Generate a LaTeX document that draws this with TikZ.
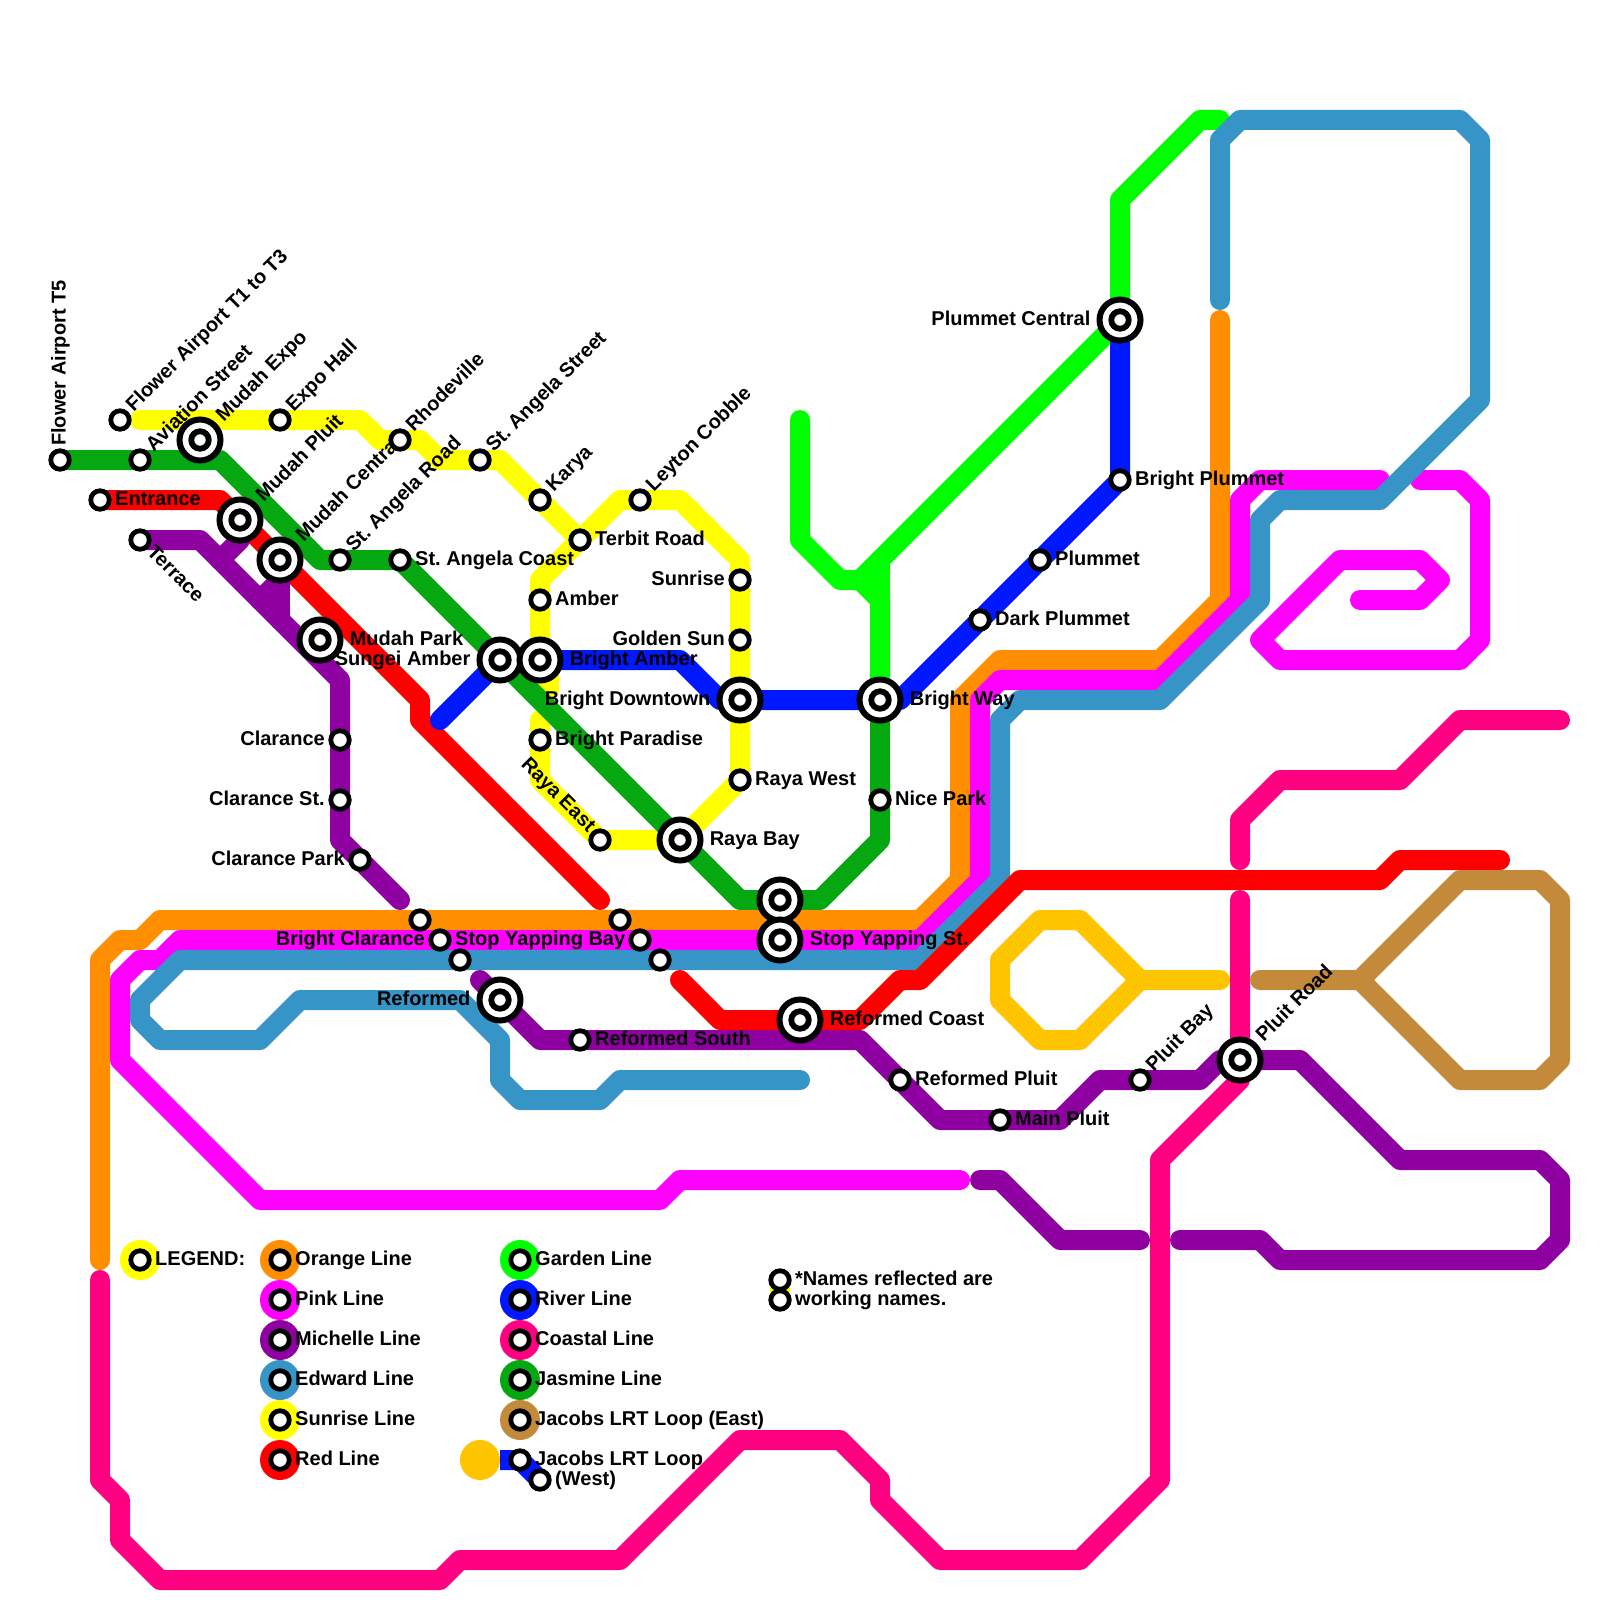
\documentclass[tikz,border=0pt]{standalone}
\usepackage{fontspec}
\setmainfont{Liberation Sans}
\definecolor{sunriseY}{HTML}{FFFF00}
\definecolor{gardenG}{HTML}{00FF00}
\definecolor{jasmineG}{HTML}{06A812}
\definecolor{redL}{HTML}{FF0000}
\definecolor{riverB}{HTML}{0018FF}
\definecolor{michelleP}{HTML}{8F00A0}
\definecolor{orangeL}{HTML}{FF8F00}
\definecolor{pinkL}{HTML}{FF00FF}
\definecolor{edwardB}{HTML}{3695C6}
\definecolor{coastalR}{HTML}{FF0080}
\definecolor{jacobsE}{HTML}{C48A3B}
\definecolor{jacobsW}{HTML}{FFC400}
\tikzset{
  trunk/.style={line width=20pt,line cap=round,line join=round},
  stn/.style={circle,draw=black,fill=white,line width=4.8pt,minimum size=18.5pt,inner sep=0pt},
  xfr/.style={circle,draw=black,fill=white,line width=6pt,minimum size=41pt,inner sep=0pt},
  hub/.style={circle,draw=black,fill=white,line width=5.8pt,minimum size=17.5pt,inner sep=0pt},
  lbl/.style={font=\fontsize{20}{22}\selectfont\bfseries\frenchspacing,inner sep=0pt,text=black},
  key/.style={circle,minimum size=40pt,inner sep=0pt}
}
\begin{document}
\begin{tikzpicture}[x=20pt,y=-20pt]
\useasboundingbox[fill=white] (0,0) rectangle (80,80);
% Sunrise Line
\draw[trunk,sunriseY] (7,21) -- (18,21) -- (19,22) -- (21,22) -- (22,23) -- (25,23) -- (29,27) -- (27,29) -- (27,33) -- (27.45,33.5) -- (27.45,34.5);
\draw[trunk,sunriseY] (29,27) -- (31,25) -- (34,25) -- (37,28) -- (37,39) -- (34,42) -- (30,42) -- (27,39) -- (27,36);
% Garden Line
\draw[trunk,gardenG] (40,21) -- (40,27) -- (42,29) -- (43,29) -- (44,30) -- (44,35);
\draw[trunk,gardenG] (43,29) -- (44,28) -- (56,16) -- (56,10) -- (60,6) -- (61,6);
\draw[trunk,gardenG] (44,28) -- (44,35);
% Jasmine Line
\draw[trunk,jasmineG] (3,23) -- (11,23) -- (16,28) -- (20,28) -- (37,45) -- (41,45) -- (44,42) -- (44,35);
% Red Line, west part
\draw[trunk,redL] (5,25) -- (11,25) -- (21,35) -- (21,36) -- (30,45);
% River Line
\draw[trunk,riverB] (22,36) -- (25,33);
\draw[trunk,riverB] (27,33) -- (34,33) -- (36,35) -- (45,35) -- (56,24) -- (56,16);
% Michelle Line
\draw[trunk,michelleP] (7,27) -- (10,27) -- (17,34) -- (17,42) -- (20,45);
\draw[trunk,michelleP] (12,26) -- (12,27) -- (11,28);
\draw[trunk,michelleP] (14,28) -- (14,31);
\draw[trunk,michelleP] (14,29) -- (13,30);
\draw[trunk,michelleP] (24,49) -- (27,52) -- (43,52) -- (47,56) -- (53,56) -- (55,54) -- (60,54) -- (61,53) -- (65,53) -- (70,58) -- (77,58) -- (78,59) -- (78,62) -- (77,63) -- (64,63) -- (63,62) -- (59,62);
\draw[trunk,michelleP] (49,59) -- (50,59) -- (53,62) -- (57,62);
% Orange Line
\draw[trunk,orangeL] (5,63) -- (5,48) -- (6,47) -- (7,47) -- (8,46) -- (46,46) -- (48,44) -- (48,35) -- (50,33) -- (58,33) -- (61,30) -- (61,16);
% Pink Line
\draw[trunk,pinkL] (48,59) -- (34,59) -- (33,60) -- (13,60) -- (6,53) -- (6,49) -- (7,48) -- (8,48) -- (9,47) -- (46,47) -- (49,44) -- (49,35) -- (50,34) -- (58,34) -- (62,30) -- (62,25) -- (63,24) -- (69,24);
\draw[trunk,pinkL] (71,24) -- (73,24) -- (74,25) -- (74,32) -- (73,33) -- (64,33) -- (63,32) -- (67,28) -- (71,28) -- (72,29) -- (71,30) -- (68,30);
% Edward Line
\draw[trunk,edwardB] (61,15) -- (61,7) -- (62,6) -- (73,6) -- (74,7) -- (74,20) -- (69,25) -- (64,25) -- (63,26) -- (63,30) -- (58,35) -- (51,35) -- (50,36) -- (50,44) -- (46,48) -- (9,48) -- (7,50) -- (7,51) -- (8,52) -- (13,52) -- (15,50) -- (23,50) -- (25,52) -- (25,54) -- (26,55) -- (30,55) -- (31,54) -- (40,54);
% Red Line, east part
\draw[trunk,redL] (34,49) -- (36,51) -- (43,51) -- (45,49) -- (46,49) -- (51,44) -- (69,44) -- (70,43) -- (75,43);
% Coastal Line
\draw[trunk,coastalR] (5,64) -- (5,74) -- (6,75) -- (6,77) -- (8,79) -- (22,79) -- (23,78) -- (31,78) -- (37,72) -- (42,72) -- (44,74) -- (44,75) -- (47,78) -- (54,78) -- (58,74) -- (58,58) -- (62,54) -- (62,45);
\draw[trunk,coastalR] (62,43) -- (62,41) -- (64,39) -- (70,39) -- (73,36) -- (78,36);
% Jacobs LRT loops
\draw[trunk,jacobsE] (63,49) -- (68,49) -- (73,44) -- (77,44) -- (78,45) -- (78,53) -- (77,54) -- (73,54) -- (68,49);
\draw[trunk,jacobsW] (61,49) -- (57,49) -- (54,46) -- (52,46) -- (50,48) -- (50,50) -- (52,52) -- (54,52) -- (57,49);
% Legend discs
\foreach \nm/\col/\gx/\gy in {kLegend/sunriseY/7/63,kOrange/orangeL/14/63,kPink/pinkL/14/65,kMichelle/michelleP/14/67,kEdward/edwardB/14/69,kSunrise/sunriseY/14/71,kRed/redL/14/73,kGarden/gardenG/26/63,kRiver/riverB/26/65,kCoastal/coastalR/26/67,kJasmine/jasmineG/26/69,kEast/jacobsE/26/71,kWest/jacobsW/24/73} {
  \node[key,fill=\col] (\nm) at (\gx,\gy) {};
}
\draw[trunk,riverB,line cap=butt] (kWest.east) -- (26,73) -- (27,74);
\draw[trunk,sunriseY,line cap=butt] (39,64) -- (39,65);
% Labels to the right of a small station
\foreach \nm/\gx/\gy/\txt in {entrance/5/25/Entrance,angelacoast/20/28/St. Angela Coast,terbit/29/27/Terbit Road,amber/27/30/Amber,paradise/27/37/Bright Paradise,rayawest/37/39/Raya West,nicepark/44/40/Nice Park,brightplummet/56/24/Bright Plummet,plummet/52/28/Plummet,darkplummet/49/31/Dark Plummet,refpluit/45/54/Reformed Pluit,mainpluit/50/56/Main Pluit,refsouth/29/52/Reformed South,stopbay/22/47/Stop Yapping Bay,tLegend/7/63/LEGEND:,tOrange/14/63/Orange Line,tPink/14/65/Pink Line,tMichelle/14/67/Michelle Line,tEdward/14/69/Edward Line,tSunrise/14/71/Sunrise Line,tRed/14/73/Red Line,tGarden/26/63/Garden Line,tRiver/26/65/River Line,tCoastal/26/67/Coastal Line,tJasmine/26/69/Jasmine Line,tEast/26/71/Jacobs LRT Loop (East),tWest/26/73/Jacobs LRT Loop,tWest2/27/74/(West),tNote/39/64/*Names reflected are,tNote2/39/65/working names.} {
  \node[lbl,anchor=base west] (l-\nm) at (\gx+.75,\gy+.27) {\txt};
}
% Labels to the left of a small station
\foreach \nm/\gx/\gy/\txt in {sunrise/37/29/Sunrise,goldensun/37/32/Golden Sun,clarance/17/37/Clarance,clarancest/17/40/Clarance St.,clarancepark/18/43/Clarance Park,brightclarance/22/47/Bright Clarance} {
  \node[lbl,anchor=base east] (l-\nm) at (\gx-.75,\gy+.27) {\txt};
}
% Labels beside an interchange
\foreach \nm/\gx/\gy/\txt in {mudahpark/16/32/Mudah Park,brightamber/27/33/Bright Amber,rayabay/34/42/Raya Bay,brightway/44/35/Bright Way,stopst/39/47/Stop Yapping St.,refcoast/40/51/Reformed Coast} {
  \node[lbl,anchor=base west] (l-\nm) at (\gx+1.48,\gy+.27) {\txt};
}
\foreach \nm/\gx/\gy/\txt in {sungei/25/33/Sungei Amber,downtown/37/35/Bright Downtown,reformed/25/50/Reformed,plumcentral/56/16/Plummet Central} {
  \node[lbl,anchor=base east] (l-\nm) at (\gx-1.47,\gy+.27) {\txt};
}
% Slanted labels
\foreach \nm/\gx/\gy/\txt in {airport/6/21/Flower Airport T1 to T3,aviation/7/23/Aviation Street,expohall/14/21/Expo Hall,rhodeville/20/22/Rhodeville,angelaroad/17/28/St. Angela Road,angelastreet/24/23/St. Angela Street,karya/27/25/Karya,leyton/32/25/Leyton Cobble,pluitbay/57/54/Pluit Bay} {
  \node[lbl,anchor=base west,rotate=45] (l-\nm) at (\gx+.69,\gy-.37) {\txt};
}
\foreach \nm/\gx/\gy/\txt in {mudahexpo/10/22/Mudah Expo,mudahpluit/12/26/Mudah Pluit,mudahcentral/14/28/Mudah Central,pluitroad/62/53/Pluit Road} {
  \node[lbl,anchor=base west,rotate=45] (l-\nm) at (\gx+1.19,\gy-.87) {\txt};
}
\node[lbl,anchor=base west,rotate=90] (l-airportfive) at (3.28,22.3) {Flower Airport T5};
\node[lbl,anchor=base west,rotate=-45] (l-terrace) at (7.3,27.65) {Terrace};
\node[lbl,anchor=base east,rotate=-45] (l-rayaeast) at (29.4,41.65) {Raya East};
% Stations
\foreach \nm/\gx/\gy in {airportfive/3/23,airport/6/21,aviation/7/23,expohall/14/21,rhodeville/20/22,angelastreet/24/23,karya/27/25,terbit/29/27,leyton/32/25,entrance/5/25,angelaroad/17/28,angelacoast/20/28,terrace/7/27,amber/27/30,sunrise/37/29,goldensun/37/32,paradise/27/37,rayawest/37/39,rayaeast/30/42,clarance/17/37,clarancest/17/40,clarancepark/18/43,nicepark/44/40,ora/21/46,pnk/22/47,edw/23/48,orb/31/46,pnb/32/47,edb/33/48,refsouth/29/52,refpluit/45/54,mainpluit/50/56,pluitbay/57/54,brightplummet/56/24,plummet/52/28,darkplummet/49/31,sLegend/7/63,sOrange/14/63,sPink/14/65,sMichelle/14/67,sEdward/14/69,sSunrise/14/71,sRed/14/73,sGarden/26/63,sRiver/26/65,sCoastal/26/67,sJasmine/26/69,sEast/26/71,sWest/26/73,sWest2/27/74,sNote/39/64,sNote2/39/65} {
  \node[stn] (\nm) at (\gx,\gy) {};
}
% Interchanges
\foreach \nm/\gx/\gy in {mudahexpo/10/22,mudahpluit/12/26,mudahcentral/14/28,mudahpark/16/32,sungei/25/33,brightamber/27/33,downtown/37/35,brightway/44/35,rayabay/34/42,jasmstop/39/45,stopst/39/47,reformed/25/50,refcoast/40/51,pluitroad/62/53,plumcentral/56/16} {
  \node[xfr] (\nm) at (\gx,\gy) {};
  \node[hub] (\nm-c) at (\nm) {};
}
\end{tikzpicture}
\end{document}
